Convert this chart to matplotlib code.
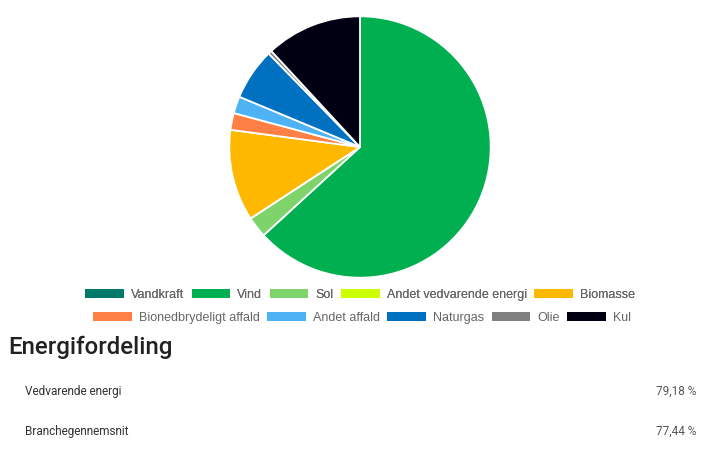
import numpy as np
import matplotlib
matplotlib.use("Agg")
import matplotlib.pyplot as plt

# data
labels = ["Vandkraft", "Vind", "Sol", "Andet vedvarende energi", "Biomasse",
          "Bionedbrydeligt affald", "Andet affald", "Naturgas", "Olie", "Kul"]
values = [0.0, 63.2, 2.6, 0.0, 11.3, 2.08, 2.1, 6.4, 0.45, 11.87]
colors = ["#00796B", "#00B050", "#7ED36A", "#CCFF00", "#FFB800",
          "#FF7F44", "#4DB3F5", "#0070C0", "#808080", "#000012"]

rows = ["Vedvarende energi", "Branchegennemsnit"]
row_vals = ["79,18 %", "77,44 %"]

W, H = 710, 451
fig = plt.figure(figsize=(W / 100, H / 100), dpi=100)

# pie: center (360,147), radius 132 px
cx, cy, r = 360, 147, 132
ax = fig.add_axes([(cx - r) / W, 1 - (cy + r) / H, 2 * r / W, 2 * r / H])
wedges, _ = ax.pie(values, colors=colors, startangle=90, counterclock=False,
                   radius=1, wedgeprops=dict(edgecolor="white", linewidth=1.3))
ax.set_xlim(-1.01, 1.01)
ax.set_ylim(-1.01, 1.01)
ax.set_aspect("equal")
ax.axis("off")

# legend, two centered rows of five
leg_kw = dict(ncol=5, frameon=False, handlelength=3.1, handleheight=0.75,
              handletextpad=0.55, columnspacing=0.6, loc="center",
              prop=dict(family="Liberation Sans", size=9), labelcolor="#666666",
              borderaxespad=0, borderpad=0)
l1 = fig.legend(wedges[:5], labels[:5], bbox_to_anchor=(360 / W, 1 - 295 / H), **leg_kw)
fig.add_artist(l1)
l2 = fig.legend(wedges[5:], labels[5:], bbox_to_anchor=(362 / W, 1 - 318 / H), **leg_kw)
for leg in (l1, l2):
    for h in leg.legend_handles:
        h.set_edgecolor("none")

# table part
fig.text(8 / W, 1 - 354 / H, "Energifordeling", family="Roboto", fontweight="medium",
         fontsize=17.3, color="#212121", va="baseline", ha="left")
for i, (lab, val) in enumerate(zip(rows, row_vals)):
    y = 1 - (395 + 40 * i) / H
    fig.text(25 / W, y, lab, family="Roboto", fontsize=8.5, color="#333333",
             va="baseline", ha="left")
    fig.text(696 / W, y, val, family="Roboto", fontsize=8.5, color="#555555",
             va="baseline", ha="right")

fig.savefig("out.png", dpi=100, facecolor="white")
